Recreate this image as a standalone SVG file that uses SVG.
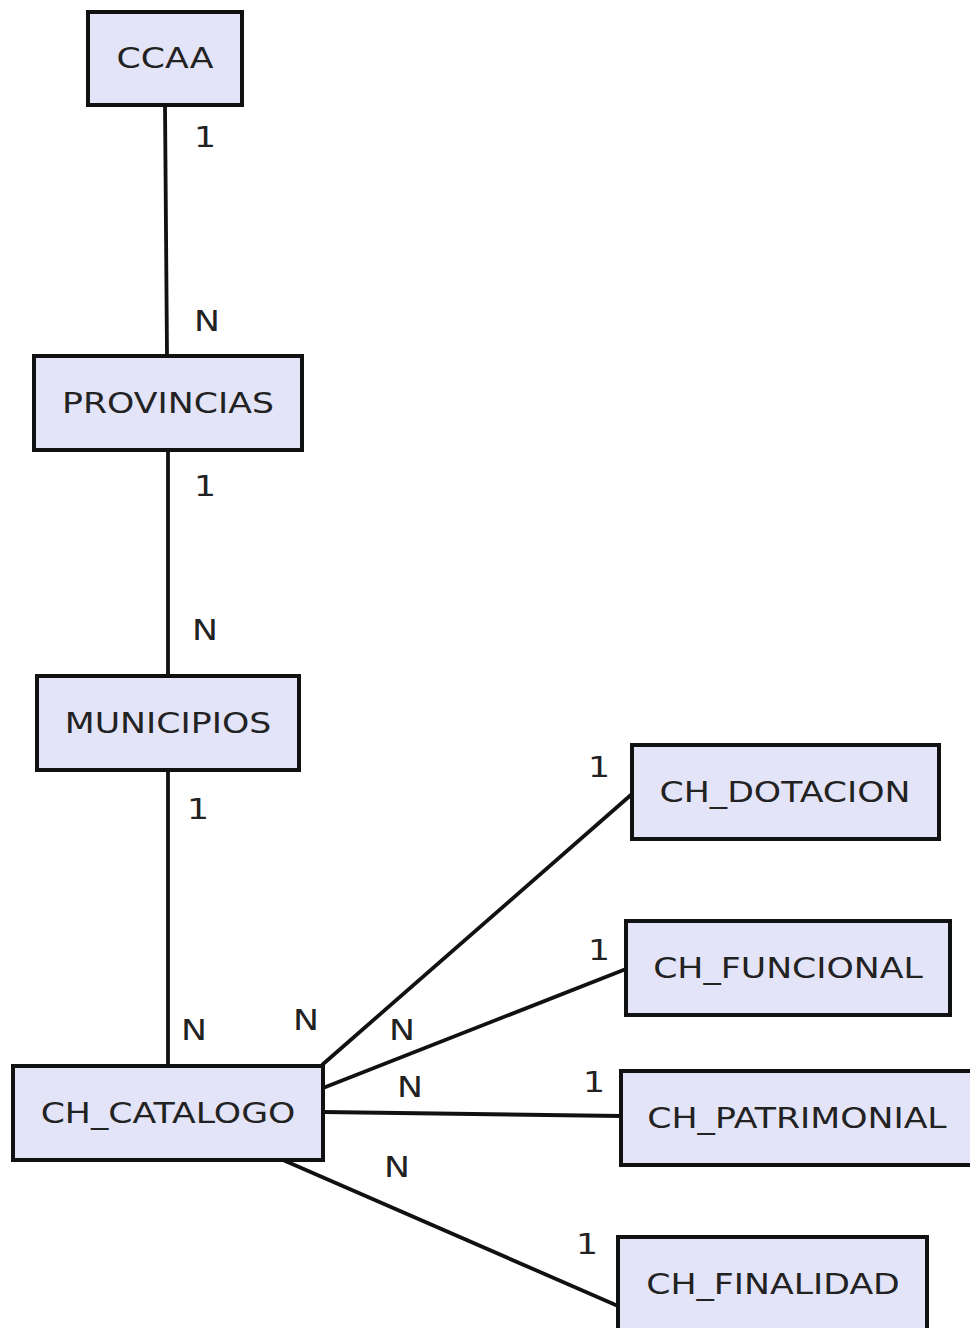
<svg xmlns="http://www.w3.org/2000/svg" width="970" height="1328" viewBox="0 0 970 1328">
<style>
.box{fill:#e4e4f8;stroke:#111;stroke-width:4}
.edge{stroke:#111;stroke-width:3.8;fill:none}
text{font-family:"DejaVu Sans","Liberation Sans",sans-serif;font-size:28px;fill:#222;text-anchor:middle}
</style>
<rect width="970" height="1328" fill="#fff"/>
<g id="connectors">
<line class="edge" x1="165" y1="105" x2="167" y2="356"/>
<line class="edge" x1="168" y1="450" x2="168" y2="676"/>
<line class="edge" x1="168" y1="770" x2="168" y2="1066"/>
<line class="edge" x1="322" y1="1065" x2="632" y2="794"/>
<line class="edge" x1="323" y1="1088" x2="626" y2="969"/>
<line class="edge" x1="323" y1="1112" x2="621" y2="1116"/>
<line class="edge" x1="283" y1="1160" x2="618" y2="1306"/>
<g id="labels">
<text transform="translate(205,147) scale(1.24,1)">1</text>
<text transform="translate(207,331) scale(1.24,1)">N</text>
<text transform="translate(205,496) scale(1.24,1)">1</text>
<text transform="translate(205,640) scale(1.24,1)">N</text>
<text transform="translate(198,819) scale(1.24,1)">1</text>
<text transform="translate(194,1040) scale(1.24,1)">N</text>
<text transform="translate(306,1030) scale(1.24,1)">N</text>
<text transform="translate(402,1040) scale(1.24,1)">N</text>
<text transform="translate(410,1097) scale(1.24,1)">N</text>
<text transform="translate(397,1177) scale(1.24,1)">N</text>
<text transform="translate(599,777) scale(1.24,1)">1</text>
<text transform="translate(599,960) scale(1.24,1)">1</text>
<text transform="translate(594,1092) scale(1.24,1)">1</text>
<text transform="translate(587,1254) scale(1.24,1)">1</text>
</g>
</g>
<g id="CCAA"><rect class="box" x="88" y="12" width="154" height="93"/><text transform="translate(165,68) scale(1.24,1)">CCAA</text></g>
<g id="PROVINCIAS"><rect class="box" x="34" y="356" width="268" height="94"/><text transform="translate(168,413) scale(1.24,1)">PROVINCIAS</text></g>
<g id="MUNICIPIOS"><rect class="box" x="37" y="676" width="262" height="94"/><text transform="translate(168,733) scale(1.24,1)">MUNICIPIOS</text></g>
<g id="CH_CATALOGO"><rect class="box" x="13" y="1066" width="310" height="94"/><text transform="translate(168,1123) scale(1.24,1)">CH_CATALOGO</text></g>
<g id="CH_DOTACION"><rect class="box" x="632" y="745" width="307" height="94"/><text transform="translate(785,802) scale(1.24,1)">CH_DOTACION</text></g>
<g id="CH_FUNCIONAL"><rect class="box" x="626" y="921" width="324" height="94"/><text transform="translate(788,978) scale(1.24,1)">CH_FUNCIONAL</text></g>
<g id="CH_PATRIMONIAL"><rect class="box" x="621" y="1071" width="353" height="94"/><text transform="translate(797,1128) scale(1.24,1)">CH_PATRIMONIAL</text></g>
<g id="CH_FINALIDAD"><rect class="box" x="618" y="1237" width="309" height="94"/><text transform="translate(773,1294) scale(1.24,1)">CH_FINALIDAD</text></g>
</svg>
